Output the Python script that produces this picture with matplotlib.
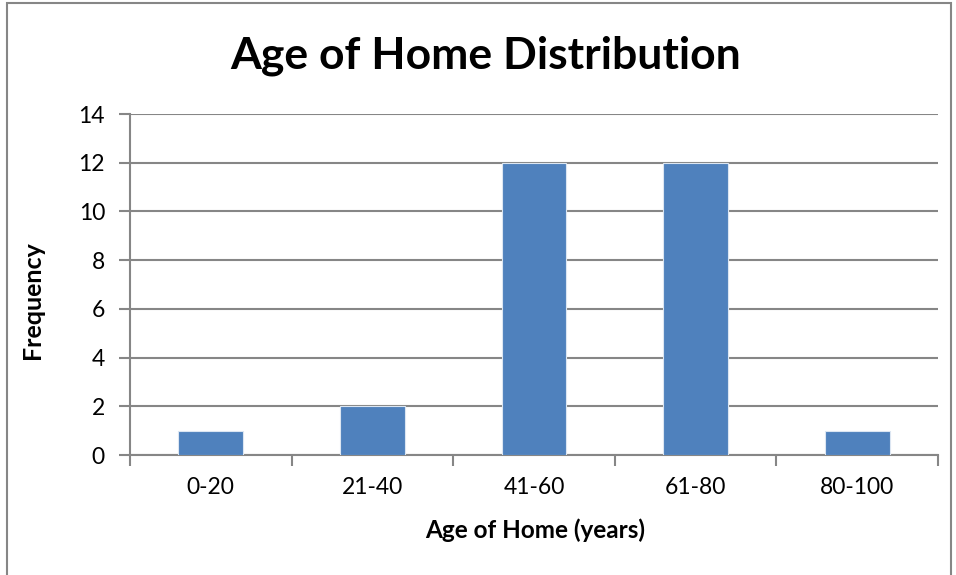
import numpy as np
import matplotlib
matplotlib.use("Agg")
from matplotlib import pyplot as plt
from matplotlib.patches import Rectangle

# data
categories = ['0-20', '21-40', '41-60', '61-80', '80-100']
frequency = [1, 2, 12, 12, 1]
yticks = [0, 2, 4, 6, 8, 10, 12, 14]

plt.rcParams['font.family'] = ['Lato', 'DejaVu Sans']

fig = plt.figure(figsize=(9.56, 5.75), dpi=100)
ax = fig.add_axes([130/956, 1-455/575, 808/956, 341/575])

gray = '#868686'
x = np.arange(len(categories))
ax.bar(x, frequency, width=0.4, color='#4F81BD', edgecolor='#dce6f2', linewidth=0.8, zorder=3)

ax.set_xlim(-0.5, len(categories) - 0.5)
ax.set_ylim(0, 14)
ax.set_yticks(yticks)
ax.set_yticklabels([str(v) for v in yticks], fontsize=16.5)
ax.set_xticks(np.arange(-0.5, len(categories), 1.0))
ax.set_xticklabels([])
ax.set_xticks(x, minor=True)
ax.set_xticklabels(categories, minor=True, fontsize=16.5)
ax.tick_params(axis='x', which='minor', length=0, pad=16)
ax.tick_params(axis='x', which='major', length=8, width=1.5, color=gray, direction='out')
ax.tick_params(axis='y', length=8, width=1.5, color=gray, direction='out', pad=10)

ax.grid(axis='y', color=gray, linewidth=1.5, zorder=0)
ax.set_axisbelow(True)
for s in ['top', 'right']:
    ax.spines[s].set_visible(False)
for s in ['left', 'bottom']:
    ax.spines[s].set_color(gray)
    ax.spines[s].set_linewidth(1.5)

fig.text(535/956, 1-530/575, 'Age of Home (years)', fontsize=17.5, fontweight='bold',
         ha='center', va='center')
fig.text(33/956, 1-300/575, 'Frequency', rotation=90, fontsize=18, fontweight='bold',
         ha='center', va='center')
fig.text(486/956, 1-56/575, 'Age of Home Distribution', fontsize=32, fontweight='bold',
         ha='center', va='center')

# outer chart border
fig.patches.append(Rectangle((7/956, -0.01), 944/956, 1 - 3/575 + 0.01, transform=fig.transFigure,
                             fill=False, edgecolor=gray, linewidth=1.5))

fig.savefig('out.png', dpi=100)
